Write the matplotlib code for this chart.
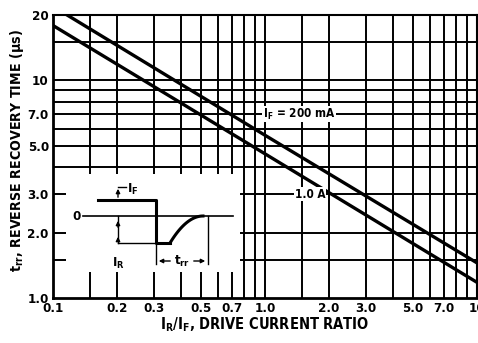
import matplotlib
matplotlib.use("Agg")
import matplotlib.pyplot as plt
import numpy as np

plt.rcParams['font.family'] = ['DejaVu Sans']
plt.rcParams['font.stretch'] = 'condensed'
plt.rcParams['font.weight'] = 'bold'
plt.rcParams['mathtext.default'] = 'regular'

# drive current ratio and recovery time
ratio = [0.1, 1.0, 10.0]
trr_200mA = [21.9, 5.6, 1.45]
trr_1A = [17.9, 4.6, 1.18]

x_ticks = [0.1, 0.2, 0.3, 0.5, 0.7, 1.0, 2.0, 3.0, 5.0, 7.0, 10]
x_tick_labels = ['0.1', '0.2', '0.3', '0.5', '0.7', '1.0', '2.0', '3.0', '5.0', '7.0', '10']
y_ticks = [1.0, 2.0, 3.0, 5.0, 7.0, 10, 20]
y_tick_labels = ['1.0', '2.0', '3.0', '5.0', '7.0', '10', '20']

x_grid = [0.15, 0.2, 0.3, 0.4, 0.5, 0.6, 0.7, 0.8, 0.9, 1.0,
          1.5, 2, 3, 4, 5, 6, 7, 8, 9]
y_grid = [1.5, 2, 3, 4, 5, 6, 7, 8, 9, 10, 15]

W, H = 478, 343
fig = plt.figure(figsize=(W / 100, H / 100), dpi=100)
ax = fig.add_axes([53 / W, 1 - 298 / H, (477 - 53) / W, (298 - 15) / H])
ax.set_xscale('log')
ax.set_yscale('log')
ax.set_xlim(0.1, 10)
ax.set_ylim(1.0, 20)

for g in x_grid:
    ax.axvline(g, color='black', lw=1.4, zorder=1)
for g in y_grid:
    ax.axhline(g, color='black', lw=1.4, zorder=1)

ax.plot(ratio, trr_200mA, color='black', lw=2.4, zorder=2)
ax.plot(ratio, trr_1A, color='black', lw=2.4, zorder=2)

ax.xaxis.set_minor_locator(matplotlib.ticker.NullLocator())
ax.yaxis.set_minor_locator(matplotlib.ticker.NullLocator())
ax.set_xticks(x_ticks)
ax.set_xticklabels(x_tick_labels)
ax.set_yticks(y_ticks)
ax.set_yticklabels(y_tick_labels)
ax.tick_params(length=0, labelsize=9.5, pad=3)
for s in ['left', 'bottom']:
    ax.spines[s].set_linewidth(2.0)
for s in ['top', 'right']:
    ax.spines[s].set_linewidth(1.5)

ax.text(1.45, 7.0, 'I$_F$ = 200 mA', fontsize=8.5, ha='center', va='center',
        bbox=dict(facecolor='white', edgecolor='none', pad=0.5), zorder=3)
ax.text(1.63, 3.0, '1.0 A', fontsize=8.5, ha='center', va='center',
        bbox=dict(facecolor='white', edgecolor='none', pad=0.5), zorder=3)

fig.text(17 / W, 1 - 151 / H, 't$_{rr}$, REVERSE RECOVERY TIME (μs)', rotation=90,
         fontsize=10.2, ha='center', va='center')
fig.text(265 / W, 1 - 325 / H, 'I$_R$/I$_F$, DRIVE CURRENT RATIO',
         fontsize=10.5, ha='center', va='center')

# inset waveform sketch, drawn in its own units over a white box
ins = fig.add_axes([66 / W, 1 - 272 / H, (240 - 66) / W, (272 - 174) / H], zorder=5)
ins.set_xlim(0, 174)
ins.set_ylim(98, 0)
ins.axis('off')
ins.add_patch(plt.Rectangle((0, 0), 174, 98, facecolor='white', edgecolor='none', zorder=0))

wave_u = [32, 90, 90, 104]
wave_v = [26, 26, 69, 69]
ins.plot(wave_u, wave_v, color='black', lw=2.2)
t = np.linspace(0, 1, 30)
ins.plot(104 + 33 * t, 69 - 27 * (1 - (1 - t) ** 2), color='black', lw=2.2)
ins.plot([17, 167], [42, 42], color='black', lw=1.2)
ins.text(11, 42, '0', fontsize=9.5, ha='center', va='center')

# IF arrow
ins.annotate('', xy=(52, 12), xytext=(52, 26),
             arrowprops=dict(arrowstyle='-|>', color='black', lw=1.0, mutation_scale=6))
ins.plot([52, 60], [13, 13], color='black', lw=1.0)
ins.text(67, 15, 'I$_F$', fontsize=9.5, ha='center', va='center')
# IR arrow
ins.plot([52, 52], [42, 69], color='black', lw=1.0)
ins.annotate('', xy=(52, 44), xytext=(52, 56),
             arrowprops=dict(arrowstyle='-|>', color='black', lw=1.0, mutation_scale=6))
ins.annotate('', xy=(52, 60), xytext=(52, 69),
             arrowprops=dict(arrowstyle='-|>', color='black', lw=1.0, mutation_scale=6))
ins.plot([52, 90], [69, 69], color='black', lw=1.0)
ins.text(52, 89, 'I$_R$', fontsize=9.5, ha='center', va='center')
# trr dimension
ins.plot([90, 90], [69, 90], color='black', lw=1.0)
ins.plot([142, 142], [42, 90], color='black', lw=1.0)
ins.annotate('', xy=(90, 87), xytext=(107, 87),
             arrowprops=dict(arrowstyle='-|>', color='black', lw=1.0, mutation_scale=6))
ins.annotate('', xy=(142, 87), xytext=(125, 87),
             arrowprops=dict(arrowstyle='-|>', color='black', lw=1.0, mutation_scale=6))
ins.text(116, 87, 't$_{rr}$', fontsize=9.5, ha='center', va='center')

fig.savefig('out.png', dpi=100)
